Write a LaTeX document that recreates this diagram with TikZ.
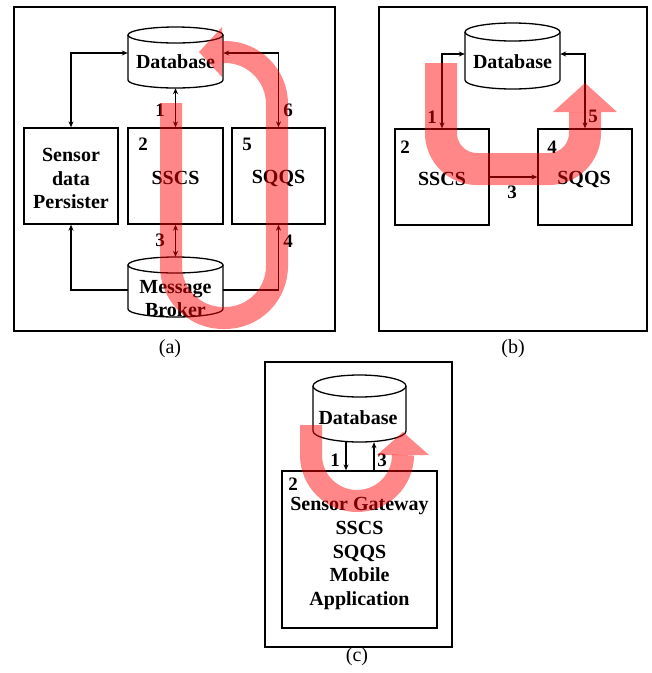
\documentclass[tikz,border=0pt]{standalone}
\usepackage{fontspec}
\setmainfont{Liberation Serif}
\usetikzlibrary{arrows.meta}

\newcommand\blockfont{\fontsize{20}{23.8}\selectfont\bfseries}
\newcommand\stepfont{\fontsize{19}{19}\selectfont\bfseries}
\newcommand\capfont{\fontsize{20}{20}\selectfont}

% storage cylinder: name, left, right, top, bottom, ellipse y-radius
\newcommand\storagecyl[6]{%
  \pgfmathsetmacro\cylcx{(#2+#3)/2}%
  \pgfmathsetmacro\cylrx{(#3-#2)/2}%
  \pgfmathsetmacro\cylcy{(#4+#5)/2}%
  \pgfmathsetmacro\cylh{#5-#4}%
  \pgfmathsetmacro\cylw{#3-#2}%
  \node[shape=rectangle, inner sep=0pt, minimum width=\cylw pt,
        minimum height=\cylh pt] (#1) at (\cylcx,\cylcy) {};
  \draw[boxline] (\cylcx,#4+#6) ellipse [x radius=\cylrx, y radius=#6];
  \draw[boxline] (#2,#4+#6) -- (#2,#5-#6)
    arc[start angle=180, end angle=0, x radius=\cylrx, y radius=#6]
    -- (#3,#4+#6);
}

\tikzset{
  boxline/.style={draw=black, line width=1.3pt},
  frame/.style={draw=black, line width=2.2pt, inner sep=0pt},
  block/.style={boxline, inner sep=0pt, align=center, font=\blockfont},
  plain/.style={inner sep=0pt, align=center, font=\blockfont},
  conn/.style={line width=1.1pt, >={Stealth[length=6pt,width=5pt]}},
  stepno/.style={inner sep=0pt, font=\stepfont},
  caption/.style={inner sep=0pt, font=\capfont},
  band/.style={draw=red, draw opacity=0.47, line cap=butt},
  bandhead/.style={fill=red, fill opacity=0.47}
}

\begin{document}
\begin{tikzpicture}[x=1pt,y=-1pt]
\useasboundingbox (0,0) rectangle (652,673);

% ---------- panel (a) ----------
\node[frame, minimum width=321pt, minimum height=324pt] (framea) at (174.5,169) {};
\storagecyl{dba}{128}{223}{27}{88}{8}
\node[plain] (dbatext) at (175.5,62) {Database};
\node[block, minimum width=94pt, minimum height=96pt] (pers) at (71,176) {};
\node[plain] (perstext) at (71,178.5) {Sensor\\data\\Persister};
\node[block, minimum width=95pt, minimum height=96pt] (sscsa) at (175.5,176) {};
\node[plain] (sscsatext) at (175.5,178) {SSCS};
\node[block, minimum width=93pt, minimum height=96pt] (sqqsa) at (278.5,176) {};
\node[plain] (sqqsatext) at (278.5,178) {SQQS};
\storagecyl{mba}{128}{223}{257}{317}{8}
\node[plain] (mbatext) at (175.5,298.5) {Message\\Broker};

\draw[conn,<->] (pers.north) |- ([yshift=4.5pt]dba.west);
\draw[conn,<->] (dba.south) -- (sscsa.north);
\draw[conn,<->] (sqqsa.north) |- ([yshift=4.5pt]dba.east);
\draw[conn,<->] (sscsa.south) -- (mba.north);
\draw[conn,->] ([yshift=-3pt]mba.east) -| (sqqsa.south);
\draw[conn,->] ([yshift=-3pt]mba.west) -| (pers.south);

\node[stepno] (a1) at (160,110) {1};
\node[stepno] (a2) at (143,144) {2};
\node[stepno] (a3) at (160,240) {3};
\node[stepno] (a4) at (288,241) {4};
\node[stepno] (a5) at (247,144) {5};
\node[stepno] (a6) at (288,110) {6};
\node[caption] (capa) at (170,349) {(a)};

% ---------- panel (b) ----------
\node[frame, minimum width=268pt, minimum height=324pt] (frameb) at (513,169) {};
\storagecyl{dbb}{465}{560}{23}{89}{9}
\node[plain] (dbbtext) at (512.5,62) {Database};
\node[block, minimum width=94pt, minimum height=96pt] (sscsb) at (442,177) {};
\node[plain] (sscsbtext) at (442,179) {SSCS};
\node[block, minimum width=94pt, minimum height=96pt] (sqqsb) at (585,177) {};
\node[plain] (sqqsbtext) at (584,179) {SQQS};

\draw[conn,<->] (sscsb.north) |- ([yshift=2pt]dbb.west);
\draw[conn,<->] (sqqsb.north) |- ([yshift=2pt]dbb.east);
\draw[conn,->] (sscsb.east) -- (sqqsb.west);

\node[stepno] (b1) at (432,117) {1};
\node[stepno] (b2) at (405,147) {2};
\node[stepno] (b3) at (512,192) {3};
\node[stepno] (b4) at (552,147) {4};
\node[stepno] (b5) at (593,116) {5};
\node[caption] (capb) at (513,349) {(b)};

% ---------- panel (c) ----------
\node[frame, minimum width=187pt, minimum height=285pt] (framec) at (358.5,504.5) {};
\storagecyl{dbc}{313}{406}{375}{442}{11}
\node[plain] (dbctext) at (358,418) {Database};
\node[block, minimum width=155pt, minimum height=157pt] (boxc) at (359.5,549.5) {};
\node[plain] (boxctext) at (359.5,553.5)
  {Sensor Gateway\\SSCS\\SQQS\\Mobile\\Application};

\draw[conn,->] ([xshift=-13.5pt]dbc.south) -- ([xshift=-13.5pt]boxc.north);
\draw[conn,->] ([xshift=14.5pt]boxc.north) -- ([xshift=14.5pt]dbc.south);

\node[stepno] (c1) at (335,460) {1};
\node[stepno] (c2) at (293,484) {2};
\node[stepno] (c3) at (382,460) {3};
\node[caption] (capc) at (357,657) {(c)};

% ---------- data-flow bands ----------
\draw[band, line width=22pt, rounded corners=52pt]
  (171,103) -- (171,318) -- (277,318) -- (277,52) -- (222,52);
\fill[bandhead] (222,27) -- (199,52) -- (222,77) -- cycle;

\draw[band, line width=32pt, rounded corners=36pt]
  (441,63) -- (441,169) -- (585,169) -- (585,112);
\fill[bandhead] (553,112) -- (585,83) -- (617,112) -- cycle;

\draw[band, line width=22pt, rounded corners=46pt]
  (311,425) -- (311,501) -- (403,501) -- (403,455);
\fill[bandhead] (377,455) -- (403,432) -- (429,455) -- cycle;

\end{tikzpicture}
\end{document}
